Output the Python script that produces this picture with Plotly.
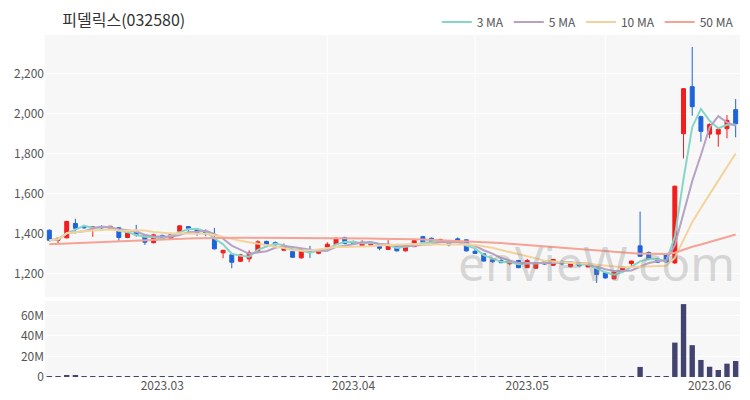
import pandas as pd
import plotly.graph_objects as go
from plotly.subplots import make_subplots

# ---- data -------------------------------------------------------------
holidays = ["2023-03-01", "2023-05-01", "2023-05-05", "2023-06-06"]
dates = [d.strftime("%Y-%m-%d") for d in pd.bdate_range("2023-02-10", "2023-06-07")
         if d.strftime("%Y-%m-%d") not in holidays]

opens = [1418, 1368, 1380, 1452, 1438, 1428, 1436, 1428, 1430, 1382,
         1415, 1390, 1356, 1392, 1378, 1413, 1436, 1420, 1412, 1378,
         1305, 1295, 1263, 1275, 1313, 1362, 1356, 1318, 1312, 1280,
         1322, 1303, 1334, 1347, 1382, 1362, 1340, 1345, 1346, 1322,
         1346, 1315, 1336, 1386, 1378, 1362, 1365, 1375, 1370, 1313,
         1300, 1270, 1267, 1251, 1267, 1231, 1228, 1260, 1243, 1262,
         1236, 1252, 1235, 1236, 1206, 1175, 1213, 1252, 1340, 1307,
         1275, 1298, 1255, 1900, 2135, 1985, 1898, 1898, 1925, 2020]
highs = [1422, 1380, 1465, 1475, 1445, 1437, 1442, 1440, 1434, 1408,
         1445, 1392, 1400, 1396, 1405, 1442, 1438, 1425, 1422, 1430,
         1320, 1300, 1300, 1318, 1368, 1366, 1362, 1352, 1316, 1328,
         1340, 1320, 1358, 1382, 1385, 1366, 1368, 1360, 1350, 1368,
         1350, 1348, 1368, 1390, 1382, 1375, 1368, 1382, 1372, 1330,
         1302, 1278, 1285, 1260, 1270, 1275, 1258, 1263, 1275, 1268,
         1255, 1255, 1250, 1240, 1210, 1215, 1238, 1266, 1511, 1312,
         1280, 1302, 1640, 2128, 2333, 1990, 1952, 1925, 1993, 2073]
lows = [1362, 1352, 1378, 1402, 1425, 1385, 1424, 1424, 1365, 1378,
        1385, 1345, 1352, 1372, 1375, 1410, 1408, 1390, 1388, 1322,
        1278, 1228, 1260, 1258, 1310, 1340, 1338, 1315, 1280, 1276,
        1280, 1298, 1332, 1345, 1348, 1345, 1338, 1343, 1318, 1320,
        1312, 1312, 1334, 1355, 1355, 1360, 1338, 1362, 1312, 1300,
        1262, 1255, 1254, 1243, 1229, 1229, 1226, 1246, 1241, 1243,
        1232, 1237, 1233, 1155, 1176, 1172, 1210, 1238, 1285, 1268,
        1254, 1256, 1250, 1777, 1990, 1860, 1877, 1835, 1877, 1882]
closes = [1368, 1378, 1462, 1428, 1430, 1435, 1430, 1438, 1382, 1405,
          1395, 1358, 1395, 1378, 1402, 1440, 1428, 1407, 1400, 1325,
          1318, 1258, 1295, 1305, 1360, 1346, 1345, 1340, 1283, 1325,
          1308, 1316, 1348, 1378, 1352, 1350, 1358, 1357, 1328, 1346,
          1315, 1345, 1366, 1357, 1358, 1372, 1345, 1365, 1315, 1302,
          1264, 1261, 1256, 1259, 1231, 1267, 1256, 1249, 1272, 1250,
          1252, 1240, 1247, 1197, 1180, 1210, 1236, 1264, 1288, 1272,
          1258, 1260, 1638, 2125, 2035, 1912, 1946, 1922, 1967, 1950]
volumes_m = [0.5, 0.3, 1.4, 1.0, 0.4, 0.3, 0.2, 0.2, 0.4, 0.2,
             0.4, 0.3, 0.2, 0.2, 0.2, 0.4, 0.2, 0.2, 0.2, 0.5,
             0.3, 0.5, 0.3, 0.3, 0.5, 0.2, 0.2, 0.2, 0.3, 0.3,
             0.3, 0.2, 0.2, 0.4, 0.3, 0.2, 0.2, 0.2, 0.2, 0.3,
             0.2, 0.2, 0.3, 0.4, 0.2, 0.2, 0.2, 0.2, 0.4, 0.2,
             0.4, 0.2, 0.2, 0.2, 0.3, 0.3, 0.2, 0.2, 0.2, 0.2,
             0.2, 0.2, 0.2, 0.6, 0.4, 0.3, 0.3, 0.5, 9.8, 0.9,
             0.4, 0.7, 33.5, 71.0, 31.0, 16.6, 10.0, 6.8, 13.0, 15.6]
# 50-day average before enough in-chart history exists
ma50_early = [1348, 1350, 1352, 1354, 1356, 1358, 1360, 1362, 1364, 1366,
              1368, 1370, 1372, 1373, 1375, 1376, 1377, 1378, 1379, 1380,
              1380, 1380, 1380, 1380, 1380, 1380, 1380, 1380, 1379, 1379,
              1379, 1378, 1378, 1378, 1378, 1377, 1377, 1377, 1376, 1376,
              1375, 1374, 1373, 1372, 1370, 1369, 1367, 1366, 1364]

tick_dates = ["2023-03-02", "2023-04-03", "2023-05-02", "2023-06-01"]
tick_labels = ["2023.03", "2023.04", "2023.05", "2023.06"]
grid_dates = ["2023-03-29", "2023-04-21", "2023-05-16"]
price_ticks = [1200, 1400, 1600, 1800, 2000, 2200]
vol_ticks = [0, 20e6, 40e6, 60e6]
vol_labels = ["0", "20M", "40M", "60M"]
title = "피델릭스(032580)"

# ---- derived ----------------------------------------------------------
cs = pd.Series(closes, dtype=float)
ma3 = cs.rolling(3, min_periods=1).mean()
ma5 = cs.rolling(5, min_periods=1).mean()
ma10 = cs.rolling(10, min_periods=1).mean()
ma50_full = cs.rolling(50).mean().tolist()
ma50 = ma50_early + ma50_full[len(ma50_early):]
volumes = [v * 1e6 for v in volumes_m]

UP, DOWN = "#f21d1d", "#1e63d9"
FONT = "Noto Sans CJK KR"

fig = make_subplots(rows=2, cols=1, shared_xaxes=True,
                    vertical_spacing=0.012, row_heights=[262, 76])

fig.add_trace(go.Candlestick(
    x=dates, open=opens, high=highs, low=lows, close=closes,
    increasing=dict(line=dict(color=UP, width=1), fillcolor=UP),
    decreasing=dict(line=dict(color=DOWN, width=1), fillcolor=DOWN),
    showlegend=False, name="피델릭스"), row=1, col=1)

for name, ser, col in [("3 MA", ma3, "#86d6c6"), ("5 MA", ma5, "#b7a2c6"),
                       ("10 MA", ma10, "#f3d39d"), ("50 MA", ma50, "#f4a394")]:
    fig.add_trace(go.Scatter(x=dates, y=list(ser), mode="lines", name=name,
                             line=dict(color=col, width=2)), row=1, col=1)

fig.add_trace(go.Bar(x=dates, y=volumes, marker=dict(color="#434370", line=dict(width=0)),
                     showlegend=False, name="거래량"), row=2, col=1)

for d in grid_dates:
    for yr in ["y domain", "y2 domain"]:
        fig.add_shape(type="line", xref="x", yref=yr, x0=d, x1=d, y0=0, y1=1,
                      line=dict(color="white", width=1), layer="below")

axis_font = dict(family=FONT, size=12, color="#555555")
fig.update_xaxes(type="category", range=[-0.5, len(dates) - 0.5],
                 showgrid=False, zeroline=False, showline=False, automargin=False,
                 tickvals=tick_dates, ticktext=tick_labels, tickfont=axis_font,
                 ticks="", rangeslider=dict(visible=False))
fig.update_yaxes(row=1, col=1, range=[1085, 2393], tickvals=price_ticks,
                 tickformat=",", tickfont=axis_font, gridcolor="white", automargin=False,
                 gridwidth=1, zeroline=False, showline=False, ticks="")
fig.update_yaxes(row=2, col=1, range=[0, 74e6], tickvals=vol_ticks,
                 ticktext=vol_labels, tickfont=axis_font, gridcolor="white", automargin=False,
                 gridwidth=1, zeroline=False, showline=False, ticks="")

fig.add_annotation(text="enVieW.com", xref="paper", yref="paper",
                   x=0.995, y=0.235, xanchor="right", yanchor="bottom",
                   showarrow=False,
                   font=dict(family="Noto Sans", size=48, color="rgba(140,140,140,0.33)"))

fig.update_layout(
    width=750, height=400,
    margin=dict(l=45, r=10, t=35, b=23, autoexpand=False),
    paper_bgcolor="white", plot_bgcolor="#f7f7f7",
    boxgap=0.35, bargap=0.38,
    title=dict(text=title, x=0.083, xref="container", xanchor="left",
               y=0.95, yref="container", yanchor="middle",
               font=dict(family=FONT, size=16, color="#333333")),
    legend=dict(orientation="h", x=0.985, xanchor="right", y=0.945, yanchor="middle",
                yref="container", xref="container",
                font=dict(family=FONT, size=12, color="#555555"),
                bgcolor="rgba(0,0,0,0)", itemwidth=30),
    font=dict(family=FONT),
)

fig.write_html("out.html", config={"displayModeBar": False},
               post_script="document.body.style.margin='0';")
